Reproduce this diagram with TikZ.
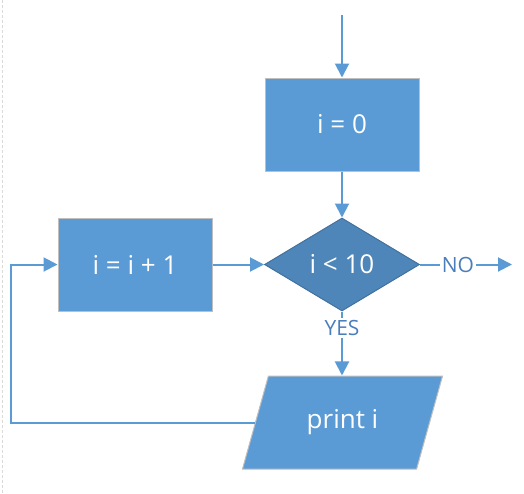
\documentclass[tikz,border=0pt]{standalone}
\usepackage{fontspec}
\setmainfont{Open Sans}
\usetikzlibrary{shapes.geometric,arrows.meta}

\definecolor{boxblue}{HTML}{5B9BD5}
\definecolor{decblue}{HTML}{4E86BA}
\definecolor{decedge}{HTML}{41719C}
\definecolor{boxedge}{HTML}{BFBFBF}
\definecolor{labelblue}{HTML}{4A7EBB}

\tikzset{
  flow/.style={draw=boxblue, line width=2pt},
  arrowflow/.style={flow, -{Triangle[width=14pt,length=14pt]}},
  boxtext/.style={text=white, font=\fontsize{26}{30}\selectfont},
  process/.style={rectangle, fill=boxblue, draw=boxedge, line width=1pt,
    minimum width=154pt, minimum height=93pt, inner sep=0pt, boxtext},
  decision/.style={diamond, fill=decblue, draw=decedge, line width=1pt,
    minimum width=155pt, minimum height=93pt, aspect=1.67, inner sep=0pt, boxtext},
  io/.style={trapezium, trapezium stretches=true,
    trapezium left angle=63.7, trapezium right angle=116.3,
    fill=boxblue, draw=boxedge, line width=1pt,
    minimum width=201pt, minimum height=93pt, inner sep=0pt, boxtext},
  branch/.style={text=labelblue, font=\fontsize{21}{24}\selectfont, inner sep=2pt},
}

\begin{document}
\begin{tikzpicture}[x=1pt,y=-1pt]
  \useasboundingbox (0,0) rectangle (524,493);
  % faint page edge on the left
  \draw[densely dashed, black!15, line width=0.8pt] (2,0) -- (2,493);

  % flowchart blocks
  \node[process]  (init) at (342,124.5) {i = 0};
  \node[decision] (test) at (342,264.5) {i < 10};
  \node[process]  (inc)  at (135,264.5) {i = i + 1};
  \node[io]       (out)  at (342.5,422.5) {print i};

  % branch labels
  \node[branch] (no)  at (458,264.5) {NO};
  \node[branch] (yes) at (342,328) {YES};

  % free ends and loop corner
  \coordinate (start) at (342,15);
  \coordinate (exit)  at (512,264.5);
  \coordinate (back)  at (11,0);

  % connectors
  \draw[arrowflow] (start) -- (init.north);
  \draw[arrowflow] (init.south) -- (test.north);
  \draw[arrowflow] (inc.east) -- (test.west);
  \draw[flow] (test.east) -- (no.west);
  \draw[arrowflow] (no.east) -- (exit);
  \draw[flow] (test.south) -- (yes.north);
  \draw[arrowflow] (yes.south) -- (yes.south |- out.north);
  \draw[arrowflow] (out.left side) -- (out.left side -| back) |- (inc.west);
\end{tikzpicture}
\end{document}
